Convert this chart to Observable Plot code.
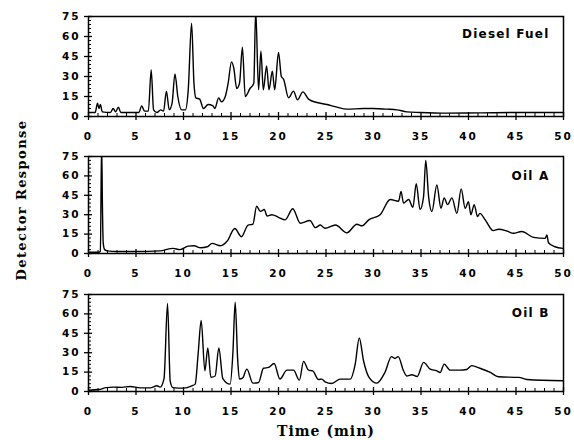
<!DOCTYPE html>
<html><head><meta charset="utf-8">
<script src="https://cdn.jsdelivr.net/npm/d3@7"></script>
<script src="https://cdn.jsdelivr.net/npm/@observablehq/plot@0.6"></script>
<style>
body{margin:0;background:#fff;}
#chart{position:relative;width:574px;height:440px;overflow:hidden;background:#fff;}
#chart svg{position:absolute;left:0;overflow:visible;}
.ylab{position:absolute;left:-78px;top:192px;width:200px;height:16px;line-height:16px;text-align:center;
  font-family:"DejaVu Serif",serif;font-weight:bold;font-size:13px;letter-spacing:1.4px;
  transform:rotate(-90deg);transform-origin:center;white-space:nowrap;color:#000;}
.xlab{position:absolute;left:226px;top:423px;width:200px;height:16px;line-height:16px;text-align:center;
  font-family:"DejaVu Serif",serif;font-weight:bold;font-size:14px;letter-spacing:1px;color:#000;white-space:nowrap;}
</style></head><body>
<div id="chart"></div>
<script>
// ---- Diesel Fuel ----
const dieselTime = [0,0.7,0.95,1.1,1.25,1.45,2.3,2.6,2.85,3.15,3.4,5.3,5.6,5.9,6.3,6.6,6.85,7.2,7.6,7.9,8.2,8.5,8.8,9.1,9.4,9.8,10.2,10.5,10.85,11.1,11.3,11.7,12.1,12.6,13.1,13.3,13.7,14.0,14.4,14.7,15.05,15.3,15.6,15.9,16.2,16.5,17.0,17.4,17.6,17.9,18.15,18.4,18.75,19.0,19.35,19.6,20.0,20.3,20.53,21.06,21.58,22.0,22.57,23.16,24.04,25.1,26.15,27.2,28.95,30,31.4,32.46,33.5,34.9,37.7,41.2,45,50];
const dieselResp = [3,3,10,6,9,3.5,3,6,3.5,7,3,3,8,4,4,35,5,3,5,4,19,5,10,32,15,5,5,20,70,25,14,13,6,9,8,6,14,11,15,25,41,36,21,25,52,15,21,25,80,20,49,20,38,20,34,20,48,30,28,14,19,12.5,18.5,13,10.5,9,7,5.5,6,6,5.5,5,3.5,3,2.5,2.7,3,3];
// ---- Oil A ----
const oilATime = [0,1.1,1.25,1.38,1.48,1.55,1.7,2,3,5,7.5,8.9,9.6,10.5,11.1,11.8,12.5,13.0,13.9,14.6,15.4,16.1,16.8,17.3,17.7,18.1,18.5,18.8,19.3,20.0,20.7,21.5,22.3,23.3,23.9,24.4,24.9,26,27.2,28.25,28.8,29.5,30.7,31.76,32.64,32.9,33.16,33.7,34.15,34.5,34.9,35.27,35.5,35.8,36.15,36.67,37.1,37.44,37.8,38.25,38.78,39.23,39.65,40,40.25,40.6,40.95,41.2,41.76,42.6,43.16,44.04,44.74,45.6,46.85,48.07,48.25,48.42,49.1,50];
const oilAResp = [1,1,1.5,85,30,8,3,2,1.5,1.5,2,4,3,5.7,6,4.4,5.2,7.8,6,9.6,19.3,13,22,22.6,36.5,32.5,34,29,30,28,26,34.6,23.4,25.5,20,22,19.5,22,16,22.6,21.4,26,30,41.7,40.4,48,39,41.7,35.7,54,34,44,72,44,32.5,53,35,43,37.8,43,31,50,35,40,30,37.8,28.6,31,26,17.7,18.8,17.4,15.6,17,12.5,11.7,14.3,8.3,5.2,3.9];
// ---- Oil B ----
const oilBTime = [0,1.09,1.86,2.63,3.5,4.39,5.44,6.5,7.19,7.54,7.95,8.32,8.6,8.88,10,10.88,11.23,11.55,11.86,12.25,12.56,12.88,13.33,13.72,14.14,14.91,15.2,15.44,15.7,15.89,16.21,16.67,17.3,17.9,18.42,18.95,19.54,20.15,20.88,21.58,22.2,22.64,23.16,23.6,24.2,24.56,24.9,25.6,26.5,27.55,28.07,28.5,28.95,29.5,30.35,31.2,31.9,32.25,32.6,33.16,33.5,34.04,34.6,35.27,35.97,36.67,37.02,37.44,38.07,39.1,39.8,40.35,41.2,42.3,43.16,45.3,46.15,50];
const oilBResp = [1,1.5,3,3.4,3.2,3.9,2.8,2.8,4.4,3.4,10,68,8,3,2.6,4.4,5.7,30,55,16,33.6,11,12,33.6,10,5.7,30,69,25,9.6,10.3,17.3,6.5,7,18,18.6,21.7,9.6,16.5,16.5,8.8,23.3,16.5,16,9.3,9.6,7.5,6.2,9.6,9.6,21,41.4,23.8,11.4,6.5,14.7,27,25.5,27,16,12,13,11.6,22.5,17.3,16,14.7,21.2,16.5,16.5,17,20,18,14.7,11.4,10.9,9.3,8.3];

const panelNames = ["Diesel Fuel", "Oil A", "Oil B"];
const xTicks = [0,5,10,15,20,25,30,35,40,45,50];
const yTicks = [0,15,30,45,60,75];
const xMinor = d3.range(0, 51, 1).filter(d => d % 5 !== 0);
const yMinor = d3.range(0, 76, 3).filter(d => d % 15 !== 0);

const panels = [
  {time: dieselTime, resp: dieselResp, name: panelNames[0], top: 0, plotH: 100, labelDy: 13},
  {time: oilATime, resp: oilAResp, name: panelNames[1], top: 140, plotH: 97, labelDy: 15},
  {time: oilBTime, resp: oilBResp, name: panelNames[2], top: 278, plotH: 97, labelDy: 14}
];

const chart = document.getElementById("chart");
const fontSans = "'DejaVu Sans', sans-serif";
const plotW = 574 - 88 - 11;

for (const p of panels) {
  const data = p.time.map((t, i) => ({t, v: p.resp[i]}));
  const mt = 16, mb = 30, H = p.plotH;
  const svg = Plot.plot({
    width: 574,
    height: mt + H + mb,
    marginTop: mt,
    marginBottom: mb,
    marginLeft: 88,
    marginRight: 11,
    style: {background: "#fff", color: "#000", fontFamily: fontSans, fontSize: "10.5px", overflow: "visible"},
    x: {domain: [0, 50]},
    y: {domain: [0, 75]},
    marks: [
      Plot.line(data, {x: "t", y: "v", stroke: "#000", strokeWidth: 1.4, curve: "monotone-x", clip: true}),
      // inward minor ticks and crossing major ticks
      Plot.tickX(xMinor, {x: d => d, insetTop: H - 3, stroke: "#000", strokeWidth: 1}),
      Plot.tickX(xTicks, {x: d => d, insetTop: H - 4, insetBottom: -4, stroke: "#000", strokeWidth: 1.3}),
      Plot.tickY(yMinor, {y: d => d, insetRight: plotW - 3, stroke: "#000", strokeWidth: 1}),
      Plot.tickY(yTicks, {y: d => d, insetRight: plotW - 4, insetLeft: -4, stroke: "#000", strokeWidth: 1.3}),
      Plot.frame({stroke: "#000", strokeWidth: 1.5}),
      Plot.axisX({ticks: xTicks, tickSize: 0, tickPadding: 16, fontWeight: "bold", fontSize: 10.5, label: null}),
      Plot.axisY({ticks: yTicks, tickSize: 0, tickPadding: 8, fontWeight: "bold", fontSize: 10.5, label: null}),
      Plot.text([p.name], {text: d => d, frameAnchor: "top-right", textAnchor: "end", lineAnchor: "top", dx: -14, dy: p.labelDy, fontWeight: "bold", fontSize: 12, fill: "#000"})
    ]
  });
  svg.style.top = p.top + "px";
  d3.select(svg).selectAll('g[aria-label^="x-axis tick label"] text, g[aria-label^="y-axis tick label"] text').style("letter-spacing", "2px");
  d3.select(svg).selectAll('g[aria-label="text"] text').style("letter-spacing", "1.2px");
  chart.appendChild(svg);
}

const ylab = document.createElement("div");
ylab.className = "ylab";
ylab.textContent = "Detector Response";
chart.appendChild(ylab);
const xlab = document.createElement("div");
xlab.className = "xlab";
xlab.textContent = "Time (min)";
chart.appendChild(xlab);
</script>
</body></html>
